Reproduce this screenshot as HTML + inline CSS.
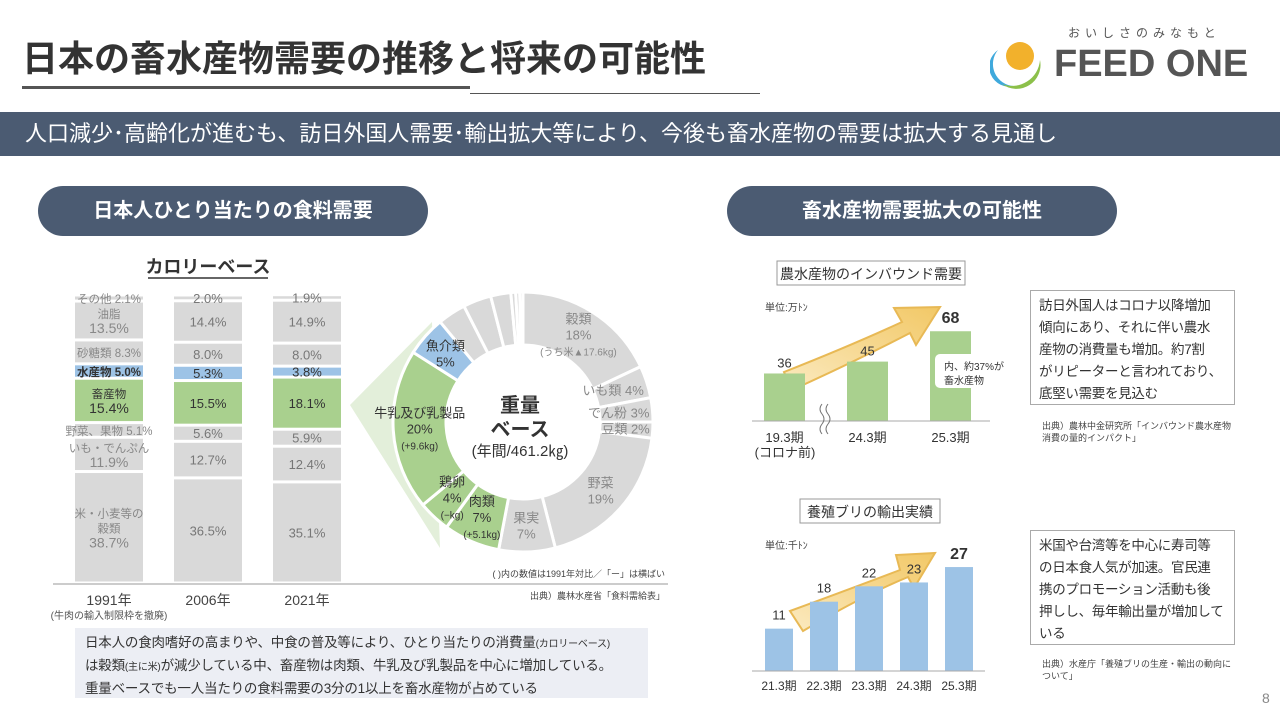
<!DOCTYPE html>
<html><head><meta charset="utf-8">
<style>
*{margin:0;padding:0;box-sizing:border-box}
body{width:1280px;height:720px;overflow:hidden;background:#fff;position:relative;font-family:"Liberation Sans","Noto Sans CJK JP",sans-serif;color:#333}
.abs{position:absolute}
.pill{position:absolute;background:#4b5b72;color:#fff;border-radius:25px;font-size:20px;font-weight:bold;text-align:center;line-height:50px;height:50px}
.box{position:absolute;border:1px solid #aaa;font-size:13.5px;line-height:22px;padding:4px 8px;color:#333;white-space:nowrap;letter-spacing:-0.3px}
.src{position:absolute;font-size:9px;line-height:12px;color:#444;white-space:nowrap}
svg text{font-family:"Liberation Sans","Noto Sans CJK JP",sans-serif}
</style></head><body>
<div class="abs" style="left:22px;top:30px;font-size:36px;font-weight:bold;color:#333;letter-spacing:0px;white-space:nowrap">日本の畜水産物需要の推移と将来の可能性</div>
<div class="abs" style="left:22px;top:86px;width:448px;height:3px;background:#555"></div>
<div class="abs" style="left:470px;top:93px;width:290px;height:1px;background:#555"></div>
<div class="abs" style="left:990px;top:22px;width:270px;height:70px">
  <div class="abs" style="left:78px;top:2px;font-size:12px;letter-spacing:5px;color:#555;white-space:nowrap">おいしさのみなもと</div>
  <svg class="abs" style="left:0;top:16px" width="52" height="52" viewBox="0 0 52 52">
    <path d="M8,12 A22,22 0 0 0 24,48 A20,20 0 0 1 8,12Z" fill="#3fa9dc"/>
    <path d="M50,22 A24,24 0 0 1 12,46 A28,28 0 0 0 50,22Z" fill="#8cc04a"/>
    <circle cx="30" cy="18" r="14" fill="#f2b12c"/>
  </svg>
  <div class="abs" style="left:64px;top:21px;font-size:38px;font-weight:bold;color:#555;letter-spacing:0px;white-space:nowrap">FEED ONE</div>
</div>
<div class="abs" style="left:0;top:112px;width:1280px;height:44px;background:#4b5b72;color:#fff;font-size:22px;line-height:44px;padding-left:25px;white-space:nowrap">人口減少･高齢化が進むも、訪日外国人需要･輸出拡大等により、今後も畜水産物の需要は拡大する見通し</div>
<div class="pill" style="left:38px;top:186px;width:390px">日本人ひとり当たりの食料需要</div>
<div class="pill" style="left:727px;top:186px;width:390px">畜水産物需要拡大の可能性</div>

<svg id="chart" class="abs" style="left:0;top:0" width="1280" height="720"></svg>

<div class="abs" style="left:75px;top:628px;width:573px;height:70px;background:#eceef4;font-size:13.5px;line-height:21px;padding:4px 10px;white-space:nowrap;letter-spacing:-0.2px">日本人の食肉嗜好の高まりや、中食の普及等により、ひとり当たりの消費量<span style="font-size:10px">(カロリーベース)</span><br>は穀類<span style="font-size:10px">(主に米)</span>が減少している中、畜産物は肉類、牛乳及び乳製品を中心に増加している。<br>重量ベースでも一人当たりの食料需要の3分の1以上を畜水産物が占めている</div>

<div class="box" style="left:1030px;top:290px;width:205px;height:115px">訪日外国人はコロナ以降増加<br>傾向にあり、それに伴い農水<br>産物の消費量も増加。約7割<br>がリピーターと言われており、<br>底堅い需要を見込む</div>
<div class="src" style="left:1042px;top:420px">出典）農林中金研究所「インバウンド農水産物<br>消費の量的インパクト」</div>
<div class="box" style="left:1030px;top:530px;width:205px;height:115px">米国や台湾等を中心に寿司等<br>の日本食人気が加速。官民連<br>携のプロモーション活動も後<br>押しし、毎年輸出量が増加して<br>いる</div>
<div class="src" style="left:1042px;top:658px">出典）水産庁「養殖ブリの生産・輸出の動向に<br>ついて」</div>
<div class="abs" style="left:1262px;top:690px;font-size:14px;color:#888">8</div>

<script>
// ---------- data ----------
const stackYears = ['1991年','2006年','2021年'];
const stackSegments = ['grain','potato','vegfruit','livestock','fishery','sugar','oil','other'];
const stack1991 = [38.7,11.9,5.1,15.4,5.0,8.3,13.5,2.1];
const stack2006 = [36.5,12.7,5.6,15.5,5.3,8.0,14.4,2.0];
const stack2021 = [35.1,12.4,5.9,18.1,3.8,8.0,14.9,1.9];
const labels1991 = [['米・小麦等の','穀類','38.7%'],['いも・でんぷん','11.9%'],['野菜、果物 5.1%'],['畜産物','15.4%'],['水産物 5.0%'],['砂糖類 8.3%'],['油脂','13.5%'],['その他 2.1%']];

const donutNames = ['穀類','いも類','でん粉','豆類','野菜','果実','肉類','鶏卵','牛乳及び乳製品','魚介類','o1','o2','o3','o4','o5','o6'];
const donutValues = [18,4,3,2,19,7,7,4,20,5,3.5,3.5,2.5,0.6,0.5,0.4];
const donutNotes = ['(うち米▲17.6kg)','','','','','','(+5.1kg)','(−kg)','(+9.6kg)','','','','','','',''];

const inboundCats = ['19.3期','24.3期','25.3期'];
const inboundVals = [36,45,68];
const yellowCats = ['21.3期','22.3期','23.3期','24.3期','25.3期'];
const yellowVals = [11,18,22,23,27];

// ---------- helpers ----------
const svg = document.getElementById('chart');
const NS = 'http://www.w3.org/2000/svg';
function mk(tag, attrs, parent){const e=document.createElementNS(NS,tag);for(const k in attrs)e.setAttribute(k,attrs[k]);(parent||svg).appendChild(e);return e;}
function txt(x,y,s,size,fill,anchor,weight){const t=mk('text',{x:x,y:y,'font-size':size,fill:fill||'#333','text-anchor':anchor||'middle','font-weight':weight||'normal'});t.textContent=s;return t;}
const GREY='#d9d9d9', GREEN='#a9d08e', BLUE='#9dc3e6';
function segColor(s){return s==='livestock'?GREEN:(s==='fishery'?BLUE:GREY);}

// ---------- light green connector ----------
const conn = mk('polygon',{points:'350,405 432,322 440,548',fill:'#e3efda'});



// ---------- stacked bars ----------
const sTitle = txt(208,273,'カロリーベース',18,'#333','middle','bold');


mk('line',{x1:148,y1:278,x2:268,y2:278,stroke:'#333','stroke-width':1.5});
const sBase=583, sH=288, barX=[75,174,273], barW=68;
function sy(p){return sH*p/100;}
[stack1991,stack2006,stack2021].forEach((vals,bi)=>{
  let acc=0;
  vals.forEach((v,si)=>{
    const y0=sBase-sy(acc+v), h=sy(v);
    const r=mk('rect',{x:barX[bi],y:y0+1.5,width:barW,height:Math.max(h-3,2.5),fill:segColor(stackSegments[si])});
    
    
    const cx=barX[bi]+barW/2, cy=y0+h/2;
    const dark = stackSegments[si]==='livestock'||stackSegments[si]==='fishery';
    const col = dark?'#333':'#888';
    if(bi===0){
      const lines=labels1991[si]; const lh=15;
      lines.forEach((ln,li)=>{
        const isVal=/%$/.test(ln)&&lines.length>1;
        txt(cx,cy+(li-(lines.length-1)/2)*lh+5,ln,isVal?14:11.5,col,'middle',stackSegments[si]==='fishery'?'bold':'normal');
      });
    } else {
      txt(cx,cy+5,v.toFixed(1)+'%',13,dark?'#333':'#777');
    }
    acc+=v;
  });
  txt(barX[bi]+barW/2,605,stackYears[bi],14,'#444');
});
mk('line',{x1:53,y1:584,x2:668,y2:584,stroke:'#999','stroke-width':1});
txt(109,619,'(牛肉の輸入制限枠を撤廃)',10,'#555');

// ---------- donut ----------
const dcx=523, dcy=422, R=130, r0=77;
const total=donutValues.reduce((a,b)=>a+b,0);
function pt(a,rad){return [dcx+rad*Math.sin(a), dcy-rad*Math.cos(a)];}
const dColors=['g','g','g','g','g','g','G','G','G','B','g','g','g','g','g','g'];
let acc=0;
const labelJobs=[];
donutValues.forEach((v,i)=>{
  const a0=acc/total*2*Math.PI, a1=(acc+v)/total*2*Math.PI; acc+=v;
  const lg=(a1-a0)>Math.PI?1:0;
  const p0=pt(a0,R),p1=pt(a1,R),p2=pt(a1,r0),p3=pt(a0,r0);
  const col=dColors[i]==='G'?GREEN:(dColors[i]==='B'?BLUE:GREY);
  const p=mk('path',{d:`M${p0} A${R},${R} 0 ${lg} 1 ${p1} L${p2} A${r0},${r0} 0 ${lg} 0 ${p3}Z`,fill:col,stroke:'#fff','stroke-width':3});
  
  
  if(!donutNames[i].startsWith('o')) labelJobs.push([i,(a0+a1)/2,v]);
});
labelJobs.forEach(([i,am,v])=>{
  const [lx,ly]=pt(am,(R+r0)/2);
  const c=dColors[i]==='g'?'#888':'#333';
  if(v<=4 && dColors[i]==='g'){
    const [ex]=pt(am,R-3);
    txt(ex,ly+5,donutNames[i]+' '+v+'%',13,c,'end');
  } else {
    const lines=[donutNames[i],v+'%']; if(donutNotes[i])lines.push(donutNotes[i]);
    lines.forEach((ln,li)=>{txt(lx,ly+(li-(lines.length-1)/2)*16+5,ln,li===2?10:13,c);});
  }
});
txt(dcx-3,412,'重量',20,'#333','middle','bold');
txt(dcx-3,436,'ベース',20,'#333','middle','bold');
txt(dcx-3,456,'(年間/461.2㎏)',15,'#333');
txt(665,577,'( )内の数値は1991年対比／「ー」は横ばい',9,'#444','end');
txt(665,599,'出典）農林水産省「食料需給表」',9,'#444','end');

// ---------- arrows ----------
const defs=mk('defs',{});
const gr=mk('linearGradient',{id:'ag',x1:0,y1:1,x2:1,y2:0},defs);
mk('stop',{offset:'0','stop-color':'#fbeac0'},gr);mk('stop',{offset:'1','stop-color':'#f2c866'},gr);
function arrow(d,name){const a=mk('path',{d:d,fill:'url(#ag)',stroke:'#e8b955','stroke-width':2});}

function titleBox(x,y,w,s,name){const r=mk('rect',{x:x,y:y,width:w,height:24,fill:'#fff',stroke:'#999'});txt(x+w/2,y+18,s,14,'#333');}

// ---------- inbound chart ----------
titleBox(777,261,188,'農水産物のインバウンド需要','inbound-title');
txt(765,311,'単位:万ﾄﾝ',10,'#444','start');
arrow('M784,372 Q850,346 902,322 L894,308 L940,307 L916,345 L910,333 Q858,360 792,390 Z','inbound-arrow');
const ib={base:421,k:1.32,x:[764,847,930],w:41};
inboundVals.forEach((v,i)=>{
  const h=v*ib.k;
  const r=mk('rect',{x:ib.x[i],y:ib.base-h,width:ib.w,height:h,fill:GREEN});
  
  
  const last=i===inboundVals.length-1;
  txt(ib.x[i]+ib.w/2,ib.base-h-(last?8:6),String(v),last?16:13,'#333','middle',last?'bold':'normal');
  txt(ib.x[i]+ib.w/2,442,inboundCats[i],13,'#333');
});
txt(785,457,'(コロナ前)',13,'#333');
mk('line',{x1:752,y1:421,x2:990,y2:421,stroke:'#aaa'});
mk('path',{d:'M822,404 q-4,5 0,10 q4,5 0,10 q-4,5 0,10 M828,404 q-4,5 0,10 q4,5 0,10 q-4,5 0,10',fill:'none',stroke:'#777','stroke-width':1});
const cb=mk('rect',{x:935,y:354,width:58,height:34,rx:5,fill:'#fff'});


txt(944,370,'内、約37%が',10,'#333','start');txt(944,384,'畜水産物',10,'#333','start');

// ---------- yellowtail chart ----------
titleBox(800,499,140,'養殖ブリの輸出実績','yellowtail-title');
txt(765,549,'単位:千ﾄﾝ',10,'#444','start');
arrow('M790,611 Q858,586 900,570 L896,555 L935,553 L914,588 L908,577 Q862,596 803,631 Z','yellowtail-arrow');
const yb={base:671,k:3.85,x:[765,810,855,900,945],w:28};
yellowVals.forEach((v,i)=>{
  const h=v*yb.k;
  const r=mk('rect',{x:yb.x[i],y:yb.base-h,width:yb.w,height:h,fill:BLUE});
  
  
  const last=i===yellowVals.length-1;
  txt(yb.x[i]+yb.w/2,yb.base-h-(last?8:9),String(v),last?16:13,'#333','middle',last?'bold':'normal');
  txt(yb.x[i]+yb.w/2,690,yellowCats[i],12,'#333');
});
mk('line',{x1:752,y1:671,x2:985,y2:671,stroke:'#aaa'});
</script>
</body></html>
